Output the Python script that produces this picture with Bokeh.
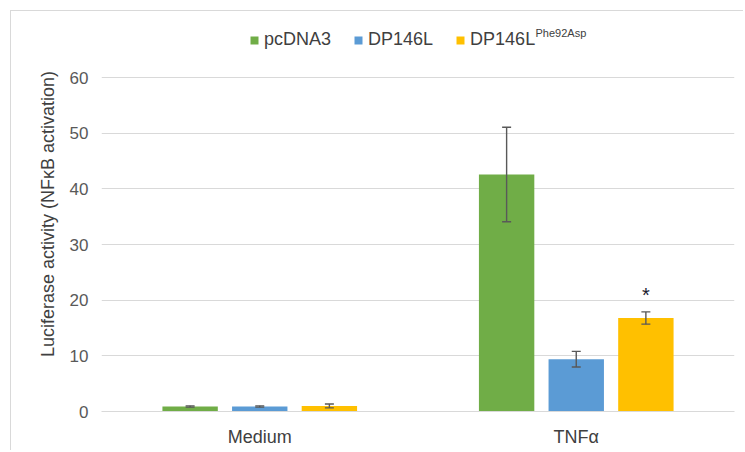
from bokeh.plotting import figure
from bokeh.models import (ColumnDataSource, FactorRange, Whisker, Legend, LegendItem,
                          Label, Range1d, FixedTicker)
from bokeh.transform import dodge
from bokeh.core.properties import value
from bokeh.embed import file_html
from bokeh.resources import INLINE

# ---- data ----
categories = ["Medium", "TNFα"]
series_names = ["pcDNA3", "DP146L", "DP146L"]
pcdna3 = [0.9, 42.6]
pcdna3_err = [0.12, 8.5]
dp146l = [0.9, 9.4]
dp146l_err = [0.12, 1.4]
dp146l_mut = [1.0, 16.8]
dp146l_mut_err = [0.35, 1.1]
y_ticks = [0, 10, 20, 30, 40, 50, 60]
superscript = "Phe92Asp"
signif = ["", "*"]

colors = ["#70AD47", "#5B9BD5", "#FFC000"]
offsets = [-0.22, 0.0, 0.22]

p = figure(x_range=FactorRange(*categories, range_padding=0), y_range=Range1d(0, 71),
           width=733, height=440, output_backend="svg", toolbar_location=None,
           min_border_left=90, min_border_right=10, min_border_top=5, min_border_bottom=40)
p.styles = {"border-top": "1px solid #d9d9d9", "border-left": "1px solid #d9d9d9",
            "margin-left": "10px", "margin-top": "10px"}
p.outline_line_color = None

items = []
for name, vals, errs, col, off in zip(series_names, [pcdna3, dp146l, dp146l_mut],
                                      [pcdna3_err, dp146l_err, dp146l_mut_err], colors, offsets):
    src = ColumnDataSource(dict(x=categories, top=vals,
                                upper=[v + e for v, e in zip(vals, errs)],
                                lower=[v - e for v, e in zip(vals, errs)]))
    r = p.vbar(x=dodge("x", off, range=p.x_range), top="top", width=0.175, source=src,
               fill_color=col, line_color=None)
    w = Whisker(base=dodge("x", off, range=p.x_range), upper="upper", lower="lower", source=src,
                line_color="#595959", line_width=1.4, level="overlay")
    w.upper_head.size = 9
    w.lower_head.size = 9
    w.upper_head.line_color = "#595959"
    w.lower_head.line_color = "#595959"
    w.upper_head.line_width = 1.4
    w.lower_head.line_width = 1.4
    p.add_layout(w)
    items.append(LegendItem(label=name, renderers=[r]))

# significance star above yellow bar
star_src = ColumnDataSource(dict(x=categories, y=[v + e for v, e in zip(dp146l_mut, dp146l_mut_err)],
                                 t=signif))
p.text(x=dodge("x", 0.22, range=p.x_range), y="y", text="t", source=star_src,
       text_align="center", text_baseline="bottom", y_offset=-6,
       text_font=value("Liberation Sans"), text_font_size="20px", text_color="#1a1a2e")

legend = Legend(items=items, orientation="horizontal", location=(148, 361),
                label_text_font="Liberation Sans", label_text_font_size="18px",
                label_text_color="#404040", glyph_width=10, glyph_height=10,
                spacing=22, label_standoff=5, border_line_color=None,
                background_fill_alpha=0, margin=0, padding=0)
p.add_layout(legend)

sup = Label(x=434, y=373, x_units="screen", y_units="screen", text=superscript,
            text_font="Liberation Sans", text_font_size="11px", text_color="#404040")
p.add_layout(sup)

p.yaxis.ticker = FixedTicker(ticks=y_ticks)
p.yaxis.axis_line_color = None
p.yaxis.major_tick_line_color = None
p.yaxis.minor_tick_line_color = None
p.yaxis.major_label_text_font = "Liberation Sans"
p.yaxis.major_label_text_font_size = "17px"
p.yaxis.major_label_text_color = "#595959"
p.yaxis.major_label_standoff = 7
p.yaxis.axis_label = "Luciferase activity (NFκB activation)"
p.yaxis.axis_label_text_font = "Liberation Sans"
p.yaxis.axis_label_text_font_size = "18px"
p.yaxis.axis_label_text_font_style = "normal"
p.yaxis.axis_label_text_color = "#404040"
p.yaxis.axis_label_standoff = 9

p.xaxis.axis_line_color = "#d9d9d9"
p.xaxis.major_tick_line_color = None
p.xaxis.minor_tick_line_color = None
p.xaxis.major_label_text_font = "Liberation Sans"
p.xaxis.major_label_text_font_size = "18px"
p.xaxis.major_label_text_color = "#404040"
p.xaxis.major_label_standoff = 9

p.xgrid.grid_line_color = None
p.ygrid.grid_line_color = "#d9d9d9"
p.ygrid.grid_line_width = 1

open("out.html", "w").write(file_html(p, INLINE))
